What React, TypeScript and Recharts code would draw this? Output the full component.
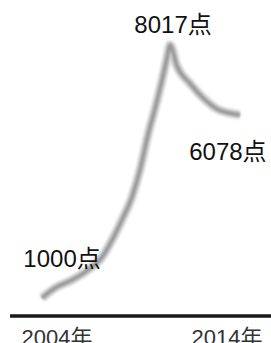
import { LineChart, Line, XAxis, YAxis } from "recharts";

// positions along the time axis (years)
const years = [
    2003.12, 2003.88, 2004.88, 2005.82, 2006.65, 2007.24, 2007.82, 2008.41, 2008.88,
    2009.35, 2009.82, 2010.18, 2010.47, 2010.65, 2011.06, 2011.82, 2012.59, 2013.41,
    2014.18, 2014.76,
];
const points = [
    1000, 1277, 1499, 1777, 2137, 2609, 3163, 3801, 4550,
    5521, 6353, 7046, 7656, 8017, 7426, 6953, 6551, 6244,
    6125, 6078,
];
const yearTicks = [2004, 2014];
const notes = [
    { index: 0, text: "1000点" },
    { index: 13, text: "8017点" },
    { index: 19, text: "6078点" },
];

const data = years.map((x, i) => ({ x, v: points[i] }));

const font = '"Liberation Sans", "Noto Sans CJK SC", sans-serif';

const noteOffset: Record<number, { dx: number; dy: number }> = {
    0: { dx: 20, dy: -31 },
    13: { dx: 3, dy: -12 },
    19: { dx: -12, dy: 45 },
};

const NoteLabel = (props: any) => {
    const { x, y, index } = props;
    const note = notes.find((n) => n.index === index);
    if (!note) return null;
    const off = noteOffset[index];
    return (
        <text
            x={x + off.dx}
            y={y + off.dy}
            textAnchor="middle"
            fontSize={24}
            fontFamily={font}
            fill="#111"
        >
            {note.text}
        </text>
    );
};

const App = () => {
    return (
        <div style={{ position: "absolute", left: 0, top: 0 }}>
            <LineChart
                width={271}
                height={343}
                data={data}
                margin={{ top: 9.56, right: 0, left: 10, bottom: 0 }}
            >
                <defs>
                    <filter id="soft" x="-20%" y="-20%" width="140%" height="140%">
                        <feGaussianBlur stdDeviation="1.3" />
                    </filter>
                </defs>
                <XAxis
                    dataKey="x"
                    type="number"
                    domain={[2001.235, 2016.588]}
                    ticks={yearTicks}
                    tickFormatter={(t) => `${t}年`}
                    height={27}
                    axisLine={{ stroke: "#1a1a1a", strokeWidth: 3.5 }}
                    tickLine={false}
                    tick={{ fontSize: 22, fontFamily: font, fill: "#333" }}
                    tickMargin={7}
                    interval={0}
                    allowDataOverflow
                />
                <YAxis hide domain={[500, 9000]} />
                <Line
                    type="monotone"
                    dataKey="v"
                    stroke="#d4d4d4"
                    strokeWidth={9}
                    dot={false}
                    filter="url(#soft)"
                    isAnimationActive={false}
                />
                <Line
                    type="monotone"
                    dataKey="v"
                    stroke="#9a9a9a"
                    strokeWidth={4}
                    dot={false}
                    filter="url(#soft)"
                    label={<NoteLabel />}
                    isAnimationActive={false}
                />
            </LineChart>
        </div>
    );
};

export default App;
